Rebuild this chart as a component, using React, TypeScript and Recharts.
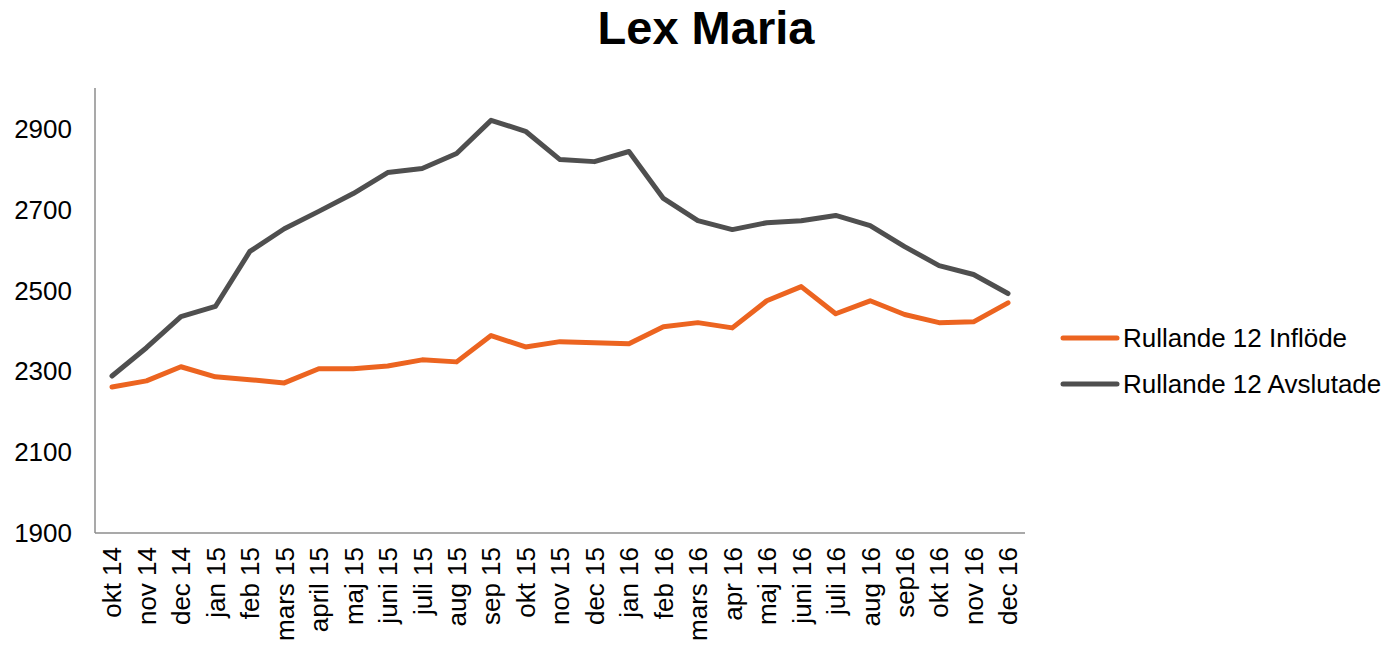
import { LineChart, Line, XAxis, YAxis } from "recharts";

const months = [
  "okt 14", "nov 14", "dec 14", "jan 15", "feb 15", "mars 15", "april 15",
  "maj 15", "juni 15", "juli 15", "aug 15", "sep 15", "okt 15", "nov 15",
  "dec 15", "jan 16", "feb 16", "mars 16", "apr 16", "maj 16", "juni 16",
  "juli 16", "aug 16", "sep16", "okt 16", "nov 16", "dec 16",
];
const inflode = [
  2261, 2276, 2311, 2286, 2279, 2271, 2306, 2306, 2313, 2328, 2323, 2388, 2360,
  2373, 2370, 2368, 2410, 2420, 2407, 2474, 2509, 2442, 2474, 2440, 2420, 2422, 2469,
];
const avslutade = [
  2288, 2358, 2435, 2460, 2596, 2652, 2695, 2739, 2791, 2801, 2838, 2920, 2893,
  2823, 2818, 2843, 2727, 2672, 2650, 2667, 2672, 2685, 2660, 2608, 2561, 2539, 2492,
];
const yTicks = [1900, 2100, 2300, 2500, 2700, 2900];

const ORANGE = "#EC6420";
const GRAY = "#4F4F4F";
const FONT = "'Liberation Sans', Arial, sans-serif";

const data = months.map((m, i) => ({
  month: m,
  inflode: inflode[i],
  avslutade: avslutade[i],
}));

function MonthTick({ x, y, payload }: any) {
  return (
    <g transform={`translate(${x},${y})`}>
      <text
        transform="rotate(-90)"
        x={-6}
        y={0}
        dy="0.36em"
        textAnchor="end"
        fontSize={26}
        fontFamily={FONT}
        fill="#000"
      >
        {payload.value}
      </text>
    </g>
  );
}

function LegendBox() {
  const items = [
    { label: "Rullande 12 Inflöde", color: ORANGE },
    { label: "Rullande 12 Avslutade", color: GRAY },
  ];
  return (
    <div
      style={{
        position: "absolute",
        left: 1060,
        top: 315,
        fontFamily: FONT,
        fontSize: 26,
        color: "#000",
        whiteSpace: "nowrap",
      }}
    >
      {items.map((it) => (
        <div
          key={it.label}
          style={{ display: "flex", alignItems: "center", height: 46 }}
        >
          <svg width={60} height={10} style={{ marginRight: 3 }}>
            <line
              x1={3}
              y1={5}
              x2={57}
              y2={5}
              stroke={it.color}
              strokeWidth={5}
              strokeLinecap="round"
            />
          </svg>
          <span>{it.label}</span>
        </div>
      ))}
    </div>
  );
}

export default function App() {
  return (
    <div
      style={{
        position: "absolute",
        left: 0,
        top: 0,
        width: 1393,
        height: 647,
        background: "#fff",
        overflow: "hidden",
      }}
    >
      <div
        style={{
          position: "absolute",
          left: 0,
          top: 0,
          width: 1412,
          textAlign: "center",
          fontFamily: FONT,
          fontWeight: "bold",
          fontSize: 47,
          color: "#000",
        }}
      >
        Lex Maria
      </div>
      <LineChart
        width={1393}
        height={647}
        data={data}
        margin={{ top: 88, right: 368, bottom: 0, left: 0 }}
      >
        <XAxis
          dataKey="month"
          interval={0}
          tickLine={false}
          axisLine={{ stroke: "#8C8C8C", strokeWidth: 1.5 }}
          tick={<MonthTick />}
          height={114}
          padding={{ left: 17, right: 17 }}
        />
        <YAxis
          domain={[1900, 3000]}
          ticks={yTicks}
          width={95}
          tickLine={false}
          tickSize={0}
          tickMargin={23}
          axisLine={{ stroke: "#8C8C8C", strokeWidth: 1.5 }}
          tick={{ fontSize: 26, fontFamily: FONT, fill: "#000" }}
          allowDataOverflow
        />
        <Line
          type="linear"
          dataKey="inflode"
          name="Rullande 12 Inflöde"
          stroke={ORANGE}
          strokeWidth={5}
          strokeLinecap="round"
          strokeLinejoin="round"
          dot={false}
          isAnimationActive={false}
        />
        <Line
          type="linear"
          dataKey="avslutade"
          name="Rullande 12 Avslutade"
          stroke={GRAY}
          strokeWidth={5}
          strokeLinecap="round"
          strokeLinejoin="round"
          dot={false}
          isAnimationActive={false}
        />
      </LineChart>
      <LegendBox />
    </div>
  );
}
